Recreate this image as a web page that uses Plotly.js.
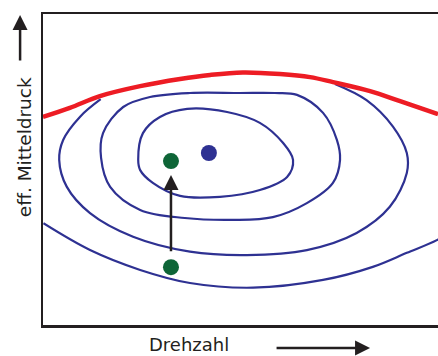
<!DOCTYPE html>
<html>
<head>
<meta charset="utf-8">
<script src="https://cdn.plot.ly/plotly-3.0.1.min.js"></script>
<style>
  html, body { margin: 0; padding: 0; background: #fff; }
  #map { width: 438px; height: 356px; }
</style>
</head>
<body>
<div id="map"></div>
<script>
// full-load line (red)
const fullLoadX = [0, 6.8, 14.4, 24.6, 34.7, 42.3, 50.6, 60.0, 67.6, 73.4, 82.8, 90.4, 100];
const fullLoadY = [66.9, 69.8, 73.6, 76.8, 79.1, 80.4, 81.2, 80.7, 79.7, 78.1, 75.2, 72.0, 67.8];

// consumption contours, inside to outside
const innerX = [24.1, 25.3, 29.6, 36.5, 46.6, 54.9, 60.8, 63.3, 61.8, 54.9, 44.8, 34.7, 27.8, 24.6, 24.1];
const innerY = [53.1, 61.7, 66.9, 69.5, 68.5, 65.0, 58.5, 53.1, 47.6, 43.4, 41.2, 41.5, 45.7, 49.8, 53.1];

const secondX = [14.7, 15.2, 20.3, 27.1, 37.2, 49.9, 58.7, 64.3, 70.9, 74.4, 75.2, 73.4, 66.8, 58.2, 48.1, 35.9, 24.6, 17.0, 14.7];
const secondY = [53.7, 61.7, 70.1, 73.3, 74.6, 74.6, 74.6, 74.0, 68.2, 59.5, 53.1, 45.7, 39.2, 34.7, 33.8, 34.4, 37.0, 44.4, 53.7];

const thirdX = [14.6, 9.4, 5.1, 4.1, 6.0, 11.9, 22.8, 37.2, 51.6, 66.8, 79.4, 87.8, 92.1, 92.1, 88.6, 81.9, 73.9];
const thirdY = [72.6, 67.0, 59.5, 53.1, 44.5, 36.0, 28.4, 23.6, 22.5, 24.1, 29.6, 38.0, 48.9, 55.3, 63.8, 72.3, 77.5];

const outerX = [0.1, 11.9, 24.6, 37.2, 53.2, 70.9, 83.5, 92.1, 99.7, 103];
const outerY = [32.7, 24.1, 17.7, 13.5, 12.0, 14.5, 18.7, 23.2, 27.3, 30.0];

// operating points
const optimumX = [42.0];
const optimumY = [55.3];
const pointsX = [32.4, 32.4];
const pointsY = [52.7, 18.6];
const shiftFrom = [32.4, 23.2];
const shiftTo = [32.4, 48.2];

const blue = "#2e3192";
const ink = "#231f20";
const font = "'DejaVu Sans', sans-serif";

function contour(x, y) {
    return { x: x, y: y, mode: "lines", line: { color: blue, width: 2.2, shape: "spline", smoothing: 1 }, hoverinfo: "skip" };
}

const traces = [
    contour(innerX, innerY),
    contour(secondX, secondY),
    contour(thirdX, thirdY),
    contour(outerX, outerY),
    { x: fullLoadX, y: fullLoadY, mode: "lines", line: { color: "#ed1c24", width: 4.5, shape: "spline" } },
    { x: optimumX, y: optimumY, mode: "markers", marker: { color: blue, size: 16 } },
    { x: pointsX, y: pointsY, mode: "markers", marker: { color: "#0e6537", size: 16 } }
];

const hidden = { range: [0, 100], showgrid: false, zeroline: false, showticklabels: false, ticks: "", showline: true, linecolor: ink, linewidth: 2.5 };

Plotly.newPlot("map", traces, {
    width: 438, height: 356,
    margin: { l: 43, r: 0, t: 14, b: 31 },
    showlegend: false,
    paper_bgcolor: "#fff", plot_bgcolor: "#fff",
    xaxis: Object.assign({}, hidden, { mirror: true }),
    yaxis: Object.assign({}, hidden),
    annotations: [
        { x: shiftTo[0], y: shiftTo[1], ax: shiftFrom[0], ay: shiftFrom[1], axref: "x", ayref: "y",
          text: "", showarrow: true, arrowhead: 2, arrowsize: 1.2, arrowwidth: 2.5, arrowcolor: ink },
        { xref: "paper", yref: "paper", x: 0.37, y: -0.064, xanchor: "center", yanchor: "middle",
          text: "Drehzahl", showarrow: false, font: { family: font, size: 18, color: ink } },
        { xref: "paper", yref: "paper", x: 0.828, y: -0.074, ax: -95, ay: 0, text: "", showarrow: true,
          arrowhead: 2, arrowsize: 1.2, arrowwidth: 2.5, arrowcolor: ink },
        { xref: "paper", yref: "paper", x: -0.046, y: 0.571, xanchor: "center", yanchor: "middle",
          text: "eff. Mitteldruck", textangle: -90, showarrow: false, font: { family: font, size: 18.5, color: ink } },
        { xref: "paper", yref: "paper", x: -0.058, y: 0.997, ax: 0, ay: 47, text: "", showarrow: true,
          arrowhead: 2, arrowsize: 1.2, arrowwidth: 2.5, arrowcolor: ink }
    ]
}, { displayModeBar: false, staticPlot: true });
</script>
</body>
</html>
